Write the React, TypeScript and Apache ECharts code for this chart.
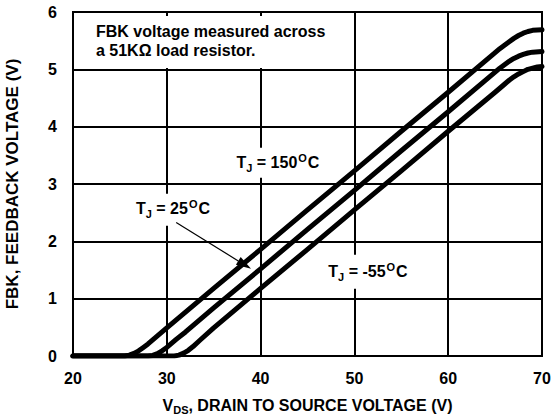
import React, { useEffect, useRef } from "react";
import * as echarts from "echarts";

// ---- data ----
const xTicks = [20, 30, 40, 50, 60, 70];
const yTicks = [0, 1, 2, 3, 4, 5, 6];

const vdsHot = [20, 25.5, 26, 26.5, 27, 27.5, 28, 29, 30, 35, 40, 45, 50, 55, 60, 65, 65.5, 66, 66.5, 67, 67.5, 68, 68.5, 69, 70];
const fbkHot = [0, 0, 0.015, 0.045, 0.09, 0.15, 0.21, 0.35, 0.49, 1.18, 1.86, 2.55, 3.23, 3.92, 4.6, 5.29, 5.36, 5.42, 5.48, 5.54, 5.59, 5.63, 5.66, 5.68, 5.69];

const vdsRoom = [20, 28, 28.5, 29, 29.5, 30, 30.5, 31, 32, 35, 40, 45, 50, 55, 60, 65, 65.5, 66, 66.5, 67, 67.5, 68, 68.5, 69, 70];
const fbkRoom = [0, 0, 0.01, 0.04, 0.09, 0.15, 0.22, 0.29, 0.42, 0.84, 1.52, 2.21, 2.89, 3.58, 4.26, 4.95, 5.02, 5.08, 5.14, 5.19, 5.23, 5.26, 5.285, 5.3, 5.31];

const vdsCold = [20, 30.8, 31.3, 31.8, 32.3, 32.8, 33.5, 35, 40, 45, 50, 55, 60, 65, 66, 66.5, 67, 67.5, 68, 68.5, 69, 69.5, 70];
const fbkCold = [0, 0, 0.015, 0.05, 0.1, 0.165, 0.27, 0.49, 1.18, 1.86, 2.55, 3.23, 3.92, 4.6, 4.74, 4.81, 4.87, 4.92, 4.96, 5.0, 5.02, 5.04, 5.05];

const noteLines = ["FBK voltage measured across", "a 51KΩ load resistor."];
const tempLabels = ["150", "25", "-55"];

const FONT = '"Liberation Sans", Arial, Helvetica, sans-serif';

const zip = (xs: number[], ys: number[]) => xs.map((x, i) => [x, ys[i]]);

const richBase = {
  b: { fontSize: 16, fontWeight: "bold", fontFamily: FONT, color: "#000", lineHeight: 18 },
  sub: { fontSize: 11, fontWeight: "bold", fontFamily: FONT, color: "#000", lineHeight: 11, padding: [10, 0, 0, 0] },
  sup: { fontSize: 11, fontWeight: "bold", fontFamily: FONT, color: "#000", lineHeight: 11, padding: [0, 1, 9, 1] },
};

const tjText = (t: string) => `{b|T}{sub|J}{b| = ${t}}{sup|O}{b|C}`;

export default function App() {
  const ref = useRef<HTMLDivElement>(null);

  useEffect(() => {
    document.body.style.margin = "0";
    if (!ref.current) return;
    const chart = echarts.init(ref.current, null, { renderer: "svg" });

    const lineSeries = (name: string, data: number[][]) => ({
      name,
      type: "line",
      data,
      symbol: "none",
      smooth: false,
      lineStyle: { color: "#000", width: 5, cap: "round", join: "round" },
      z: 3,
    });

    const axisLabel = {
      color: "#000",
      fontSize: 16,
      fontWeight: "bold",
      fontFamily: FONT,
    };

    chart.setOption({
      animation: false,
      grid: {
        left: 73,
        right: 11,
        top: 12,
        bottom: 64,
        show: true,
        borderColor: "#000",
        borderWidth: 2,
        containLabel: false,
        outerBoundsMode: "none",
      },
      xAxis: {
        type: "value",
        min: xTicks[0],
        max: xTicks[xTicks.length - 1],
        interval: 10,
        axisLine: { show: false },
        axisTick: { show: false },
        splitLine: { show: true, lineStyle: { color: "#000", width: 2 } },
        axisLabel: { ...axisLabel, margin: 14 },
        name: "{b|V}{sub|DS}{b|, DRAIN TO SOURCE VOLTAGE (V)}",
        nameLocation: "middle",
        nameGap: 40,
        nameTextStyle: { rich: richBase },
      },
      yAxis: {
        type: "value",
        min: yTicks[0],
        max: yTicks[yTicks.length - 1],
        interval: 1,
        axisLine: { show: false },
        axisTick: { show: false },
        splitLine: { show: true, lineStyle: { color: "#000", width: 2 } },
        axisLabel: { ...axisLabel, margin: 16 },
        name: "FBK, FEEDBACK VOLTAGE (V)",
        nameLocation: "middle",
        nameGap: 52,
        nameTextStyle: { color: "#000", fontSize: 17, fontWeight: "bold", fontFamily: FONT },
      },
      series: [
        lineSeries("150", zip(vdsHot, fbkHot)),
        lineSeries("25", zip(vdsRoom, fbkRoom)),
        lineSeries("-55", zip(vdsCold, fbkCold)),
      ],
    });

    const px = (x: number, y: number) => chart.convertToPixel({ gridIndex: 0 }, [x, y]) as number[];

    const notePos = px(22.45, 5.67);
    const hotPos = px(41.85, 3.37);
    const roomPos = px(30.66, 2.55);
    const coldPos = px(51.45, 1.47);
    const a0 = px(31.0, 2.33);
    const a1 = px(38.98, 1.52);
    const dx = a1[0] - a0[0];
    const dy = a1[1] - a0[1];
    const len = Math.sqrt(dx * dx + dy * dy);
    const ux = dx / len;
    const uy = dy / len;
    const headL = 15;
    const headW = 4.5;
    const base = [a1[0] - ux * headL, a1[1] - uy * headL];

    const tempText = (pos: number[], label: string, padding: number[]) => ({
      type: "text",
      x: pos[0],
      y: pos[1],
      z: 1,
      style: {
        text: tjText(label),
        rich: richBase,
        align: "center",
        verticalAlign: "middle",
        backgroundColor: "#fff",
        padding,
      },
    });

    chart.setOption({
      graphic: [
        {
          type: "text",
          x: notePos[0] - 10,
          y: notePos[1] - 15,
          z: 1,
          style: {
            text: noteLines.join("\n"),
            fill: "#000",
            fontSize: 16,
            fontWeight: "bold",
            fontFamily: FONT,
            lineHeight: 19,
            align: "left",
            verticalAlign: "top",
            backgroundColor: "#fff",
            padding: [6, 8, 8, 10],
          },
        },
        tempText(hotPos, tempLabels[0], [6, 6, 6, 6]),
        tempText(roomPos, tempLabels[1], [6, 4, 8, 4]),
        tempText(coldPos, tempLabels[2], [8, 4, 8, 4]),
        {
          type: "line",
          z: 4,
          shape: { x1: a0[0], y1: a0[1], x2: base[0], y2: base[1] },
          style: { stroke: "#000", lineWidth: 1.2 },
        },
        {
          type: "polygon",
          z: 4,
          shape: {
            points: [
              [a1[0], a1[1]],
              [base[0] - uy * headW, base[1] + ux * headW],
              [base[0] + uy * headW, base[1] - ux * headW],
            ],
          },
          style: { fill: "#000" },
        },
      ],
    });

    return () => chart.dispose();
  }, []);

  return <div ref={ref} style={{ width: 553, height: 420 }} />;
}
